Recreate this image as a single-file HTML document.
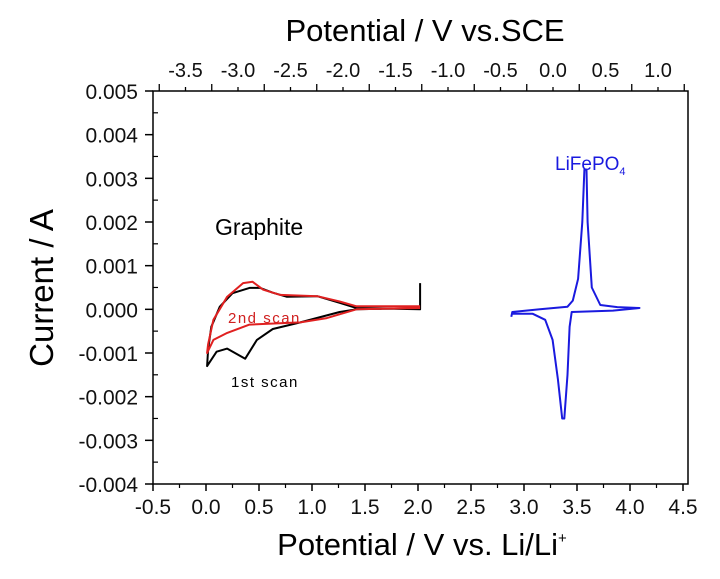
<!DOCTYPE html>
<html><head><meta charset="utf-8"><style>
body{margin:0;background:#fff;width:720px;height:574px;overflow:hidden}
svg text{font-family:"Liberation Sans",sans-serif}
</style></head><body>
<svg id="c" width="720" height="574"></svg>
<script>
const xTicks=[-0.5,0,0.5,1,1.5,2,2.5,3,3.5,4,4.5];
const yTicks=[0.005,0.004,0.003,0.002,0.001,0,-0.001,-0.002,-0.003,-0.004];
const topTicks=[-3.5,-3.0,-2.5,-2.0,-1.5,-1.0,-0.5,0.0,0.5,1.0];
const black1V=[2.02,2.02,1.42,1.26,0.89,0.63,0.48,0.37,0.2,0.1,0.01,0.02,0.05,0.13,0.25,0.41,0.51,0.63,0.76,1.05,1.26,1.42,2.02,2.02];
const black1I=[0.00006,0.00003,0,-0.00006,-0.0003,-0.00045,-0.0007,-0.00113,-0.0009,-0.00097,-0.0013,-0.00092,-0.0004,0.00006,0.00037,0.00049,0.00049,0.00038,0.00029,0.0003,0.00015,0.00003,0,0.0006];
const red2V=[2.02,1.42,1.14,0.89,0.41,0.2,0.07,0.01,0.02,0.07,0.2,0.35,0.44,0.54,0.7,1.05,1.26,1.42,2.02];
const red2I=[0.00003,0,-0.0002,-0.0003,-0.00035,-0.00054,-0.0007,-0.001,-0.0008,-0.00024,0.00029,0.0006,0.00063,0.00045,0.00033,0.0003,0.00018,0.00007,0.00007];
const lfpV=[2.88,2.89,3.15,3.41,3.46,3.51,3.55,3.57,3.59,3.6,3.64,3.72,3.88,4.09,3.84,3.45,3.43,3.41,3.38,3.36,3.32,3.27,3.2,3.08,2.88];
const lfpI=[-0.00017,-0.00006,0,0.00006,0.0002,0.0007,0.002,0.0032,0.0032,0.002,0.0005,0.0001,0.00005,0.00003,-0.00003,-0.00006,-0.0004,-0.0015,-0.0025,-0.0025,-0.0016,-0.0007,-0.00024,-0.0001,-0.0001];
const L=153,R=688,T=91,B=484;
const sx=v=>L+(v+0.5)*106;
const sy=i=>T+(0.005-i)/0.009*(B-T);
const stx=v=>553+v*105;
const svg=document.getElementById('c');const NS='http://www.w3.org/2000/svg';
function mk(t,a,txt){const e=document.createElementNS(NS,t);for(const k in a)e.setAttribute(k,a[k]);if(txt!==undefined)e.textContent=txt;svg.appendChild(e);return e;}
let e=mk('rect',{x:L,y:T,width:R-L,height:B-T,fill:'none',stroke:'#000','stroke-width':1.5});

xTicks.forEach(v=>{const x=sx(v);
 let t=mk('line',{x1:x,x2:x,y1:B,y2:B+7,stroke:'#000','stroke-width':1.5});
 
 if(v<4.5){let m=mk('line',{x1:x+26.5,x2:x+26.5,y1:B,y2:B+4,stroke:'#000','stroke-width':1.2});}
 let l=mk('text',{x:x,y:B+30,'text-anchor':'middle','font-size':21,fill:'#111'},v.toFixed(1));
 });
yTicks.forEach(v=>{const y=sy(v);
 let t=mk('line',{x1:L-8,x2:L,y1:y,y2:y,stroke:'#000','stroke-width':1.5});
 
 if(v>-0.004){let m=mk('line',{x1:L,x2:L+5,y1:y+21.8,y2:y+21.8,stroke:'#000','stroke-width':1.2});}
 let l=mk('text',{x:L-15,y:y+8,'text-anchor':'end','font-size':21,fill:'#111'},v.toFixed(3));
 });
for(let x=stx(-3.5)-26.25;x<=R;x+=26.25){const big=Math.round((x-stx(0))/26.25)%2!==0;
 let t=mk('line',{x1:x,x2:x,y1:T,y2:T-(big?7:4),stroke:'#000','stroke-width':1.3});
 }
topTicks.forEach(v=>{let l=mk('text',{x:stx(v),y:T-14,'text-anchor':'middle','font-size':20,fill:'#111'},v.toFixed(1));
 });
function line(V,I,col,name){const d=V.map((v,k)=>(k?'L':'M')+sx(v).toFixed(1)+' '+sy(I[k]).toFixed(1)).join(' ');
 let p=mk('path',{d:d,fill:'none',stroke:col,'stroke-width':2,'stroke-linejoin':'round'});
 }
line(black1V,black1I,'#000','graphite-1st-scan');
line(red2V,red2I,'#e02020','graphite-2nd-scan');
line(lfpV,lfpI,'#1a1adf','lifepo4-curve');
e=mk('text',{x:215,y:235,'font-size':23,fill:'#000'},'Graphite');
e=mk('text',{x:228,y:323,'font-size':15,fill:'#d02020','letter-spacing':'1.5'},'2nd scan');
e=mk('text',{x:231,y:387,'font-size':15,fill:'#000','letter-spacing':'1.5'},'1st scan');
e=mk('text',{x:555,y:170,'font-size':19,fill:'#1a1adf'},'LiFePO');
mk('tspan',{dy:5,'font-size':11},'4');e.appendChild(svg.lastChild);
e=mk('text',{x:425,y:41,'text-anchor':'middle','font-size':31,fill:'#000'},'Potential / V vs.SCE');
e=mk('text',{x:422,y:555,'text-anchor':'middle','font-size':31,fill:'#000'},'Potential / V vs. Li/Li');
mk('tspan',{dy:-12,'font-size':15},'+');e.appendChild(svg.lastChild);
e=mk('text',{x:53,y:288,'text-anchor':'middle','font-size':33,fill:'#000',transform:'rotate(-90 53 288)'},'Current / A');
</script>
</body></html>
